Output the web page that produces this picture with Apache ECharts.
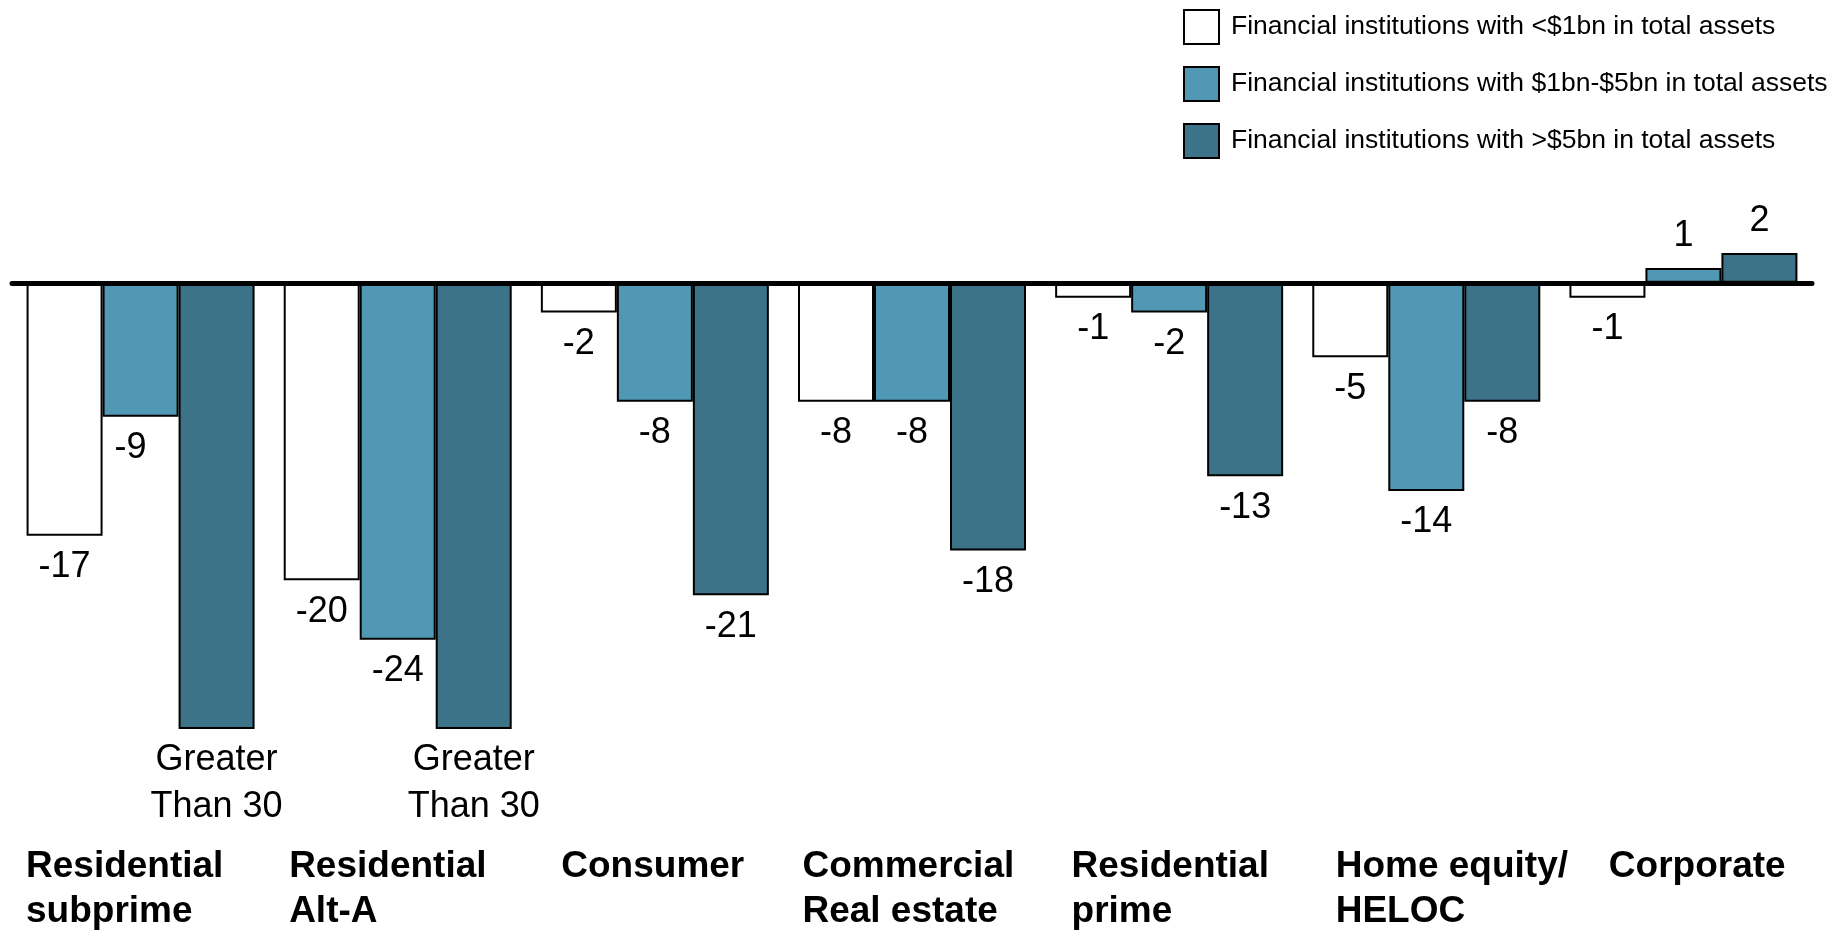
<!DOCTYPE html>
<html>
<head>
<meta charset="utf-8">
<script src="https://cdn.jsdelivr.net/npm/echarts@6/dist/echarts.min.js"></script>
<style>
  html, body { margin: 0; padding: 0; background: #fff; }
  #chart { width: 1845px; height: 931px; }
</style>
</head>
<body>
<div id="chart"></div>
<script>
// Loan categories (two-line names where the label wraps)
const categories = [
  'Residential\nsubprime',
  'Residential\nAlt-A',
  'Consumer',
  'Commercial\nReal estate',
  'Residential\nprime',
  'Home equity/\nHELOC',
  'Corporate'
];

const seriesNames = [
  'Financial institutions with <$1bn in total assets',
  'Financial institutions with $1bn-$5bn in total assets',
  'Financial institutions with >$5bn in total assets'
];

// Values per category for each size bucket
const smallInst = [-17, -20, -2, -8, -1, -5, -1];
const midInst = [-9, -24, -8, -8, -2, -14, 1];
const largeInst = [-30, -30, -21, -18, -13, -8, 2];

// Bars at the floor of the scale are capped and read "Greater Than 30"
const capValue = -30;
const capLabel = 'Greater\nThan 30';

const FONT = '"Liberation Sans", Arial, Helvetica, sans-serif';
const colors = ['#ffffff', '#5098b4', '#3d7389'];

// left indent of each category name, measured from the start of its band
const nameIndent = [14, 20, 35, 19, 31, 38, 54];

function buildData(values, seriesIdx) {
  return values.map((v, i) => {
    const item = { value: v, label: { position: v < 0 ? 'bottom' : 'top' } };
    if (seriesIdx === 1 && i === 0) item.label.offset = [-10, 0];
    return item;
  });
}

const rich = {};
nameIndent.forEach((p, i) => {
  rich['c' + i] = {
    fontFamily: FONT, fontWeight: 'bold', fontSize: 37, lineHeight: 45,
    color: '#000', padding: [0, 0, 0, p]
  };
});

const seriesValues = [smallInst, midInst, largeInst];

const option = {
  animation: false,
  backgroundColor: '#ffffff',
  textStyle: { fontFamily: FONT },
  grid: { left: 12, right: 33, top: 134, bottom: 202 },
  legend: {
    orient: 'vertical',
    left: 1183,
    top: 9,
    padding: 0,
    itemWidth: 35,
    itemHeight: 34,
    itemGap: 21,
    icon: 'rect',
    data: seriesNames,
    textStyle: { fontFamily: FONT, fontSize: 26.5, color: '#000', padding: [0, 0, 0, 7] }
  },
  xAxis: [
    {
      // zero line
      type: 'category',
      data: categories,
      position: 'top',
      z: 3,
      axisLine: { show: true, onZero: true, lineStyle: { color: '#000', width: 5, cap: 'round' } },
      axisTick: { show: false },
      axisLabel: { show: false },
      splitLine: { show: false }
    },
    {
      // category names, left-aligned at the start of each band
      type: 'category',
      data: categories.concat(['']),
      boundaryGap: false,
      position: 'bottom',
      axisLine: { show: false, onZero: false },
      axisTick: { show: false },
      splitLine: { show: false },
      axisLabel: {
        interval: 0,
        align: 'left',
        verticalAlign: 'top',
        margin: 115,
        formatter: (val, idx) => {
          if (!val) return '';
          return val.split('\n').map(l => '{c' + idx + '|' + l + '}').join('\n');
        },
        rich: rich
      }
    }
  ],
  yAxis: {
    type: 'value',
    min: -30,
    max: 10,
    show: false,
    splitLine: { show: false }
  },
  series: seriesValues.map((vals, s) => ({
    name: seriesNames[s],
    type: 'bar',
    xAxisIndex: 0,
    barWidth: 76,
    barGap: '0%',
    data: buildData(vals, s),
    itemStyle: { color: colors[s], borderColor: '#000', borderWidth: 2 },
    label: {
      show: true,
      distance: 8,
      fontFamily: FONT,
      fontSize: 36,
      lineHeight: 47,
      color: '#000',
      formatter: p => (p.value <= capValue ? capLabel : String(p.value))
    }
  }))
};

const chart = echarts.init(document.getElementById('chart'), null, { renderer: 'canvas' });
chart.setOption(option);
</script>
</body>
</html>
